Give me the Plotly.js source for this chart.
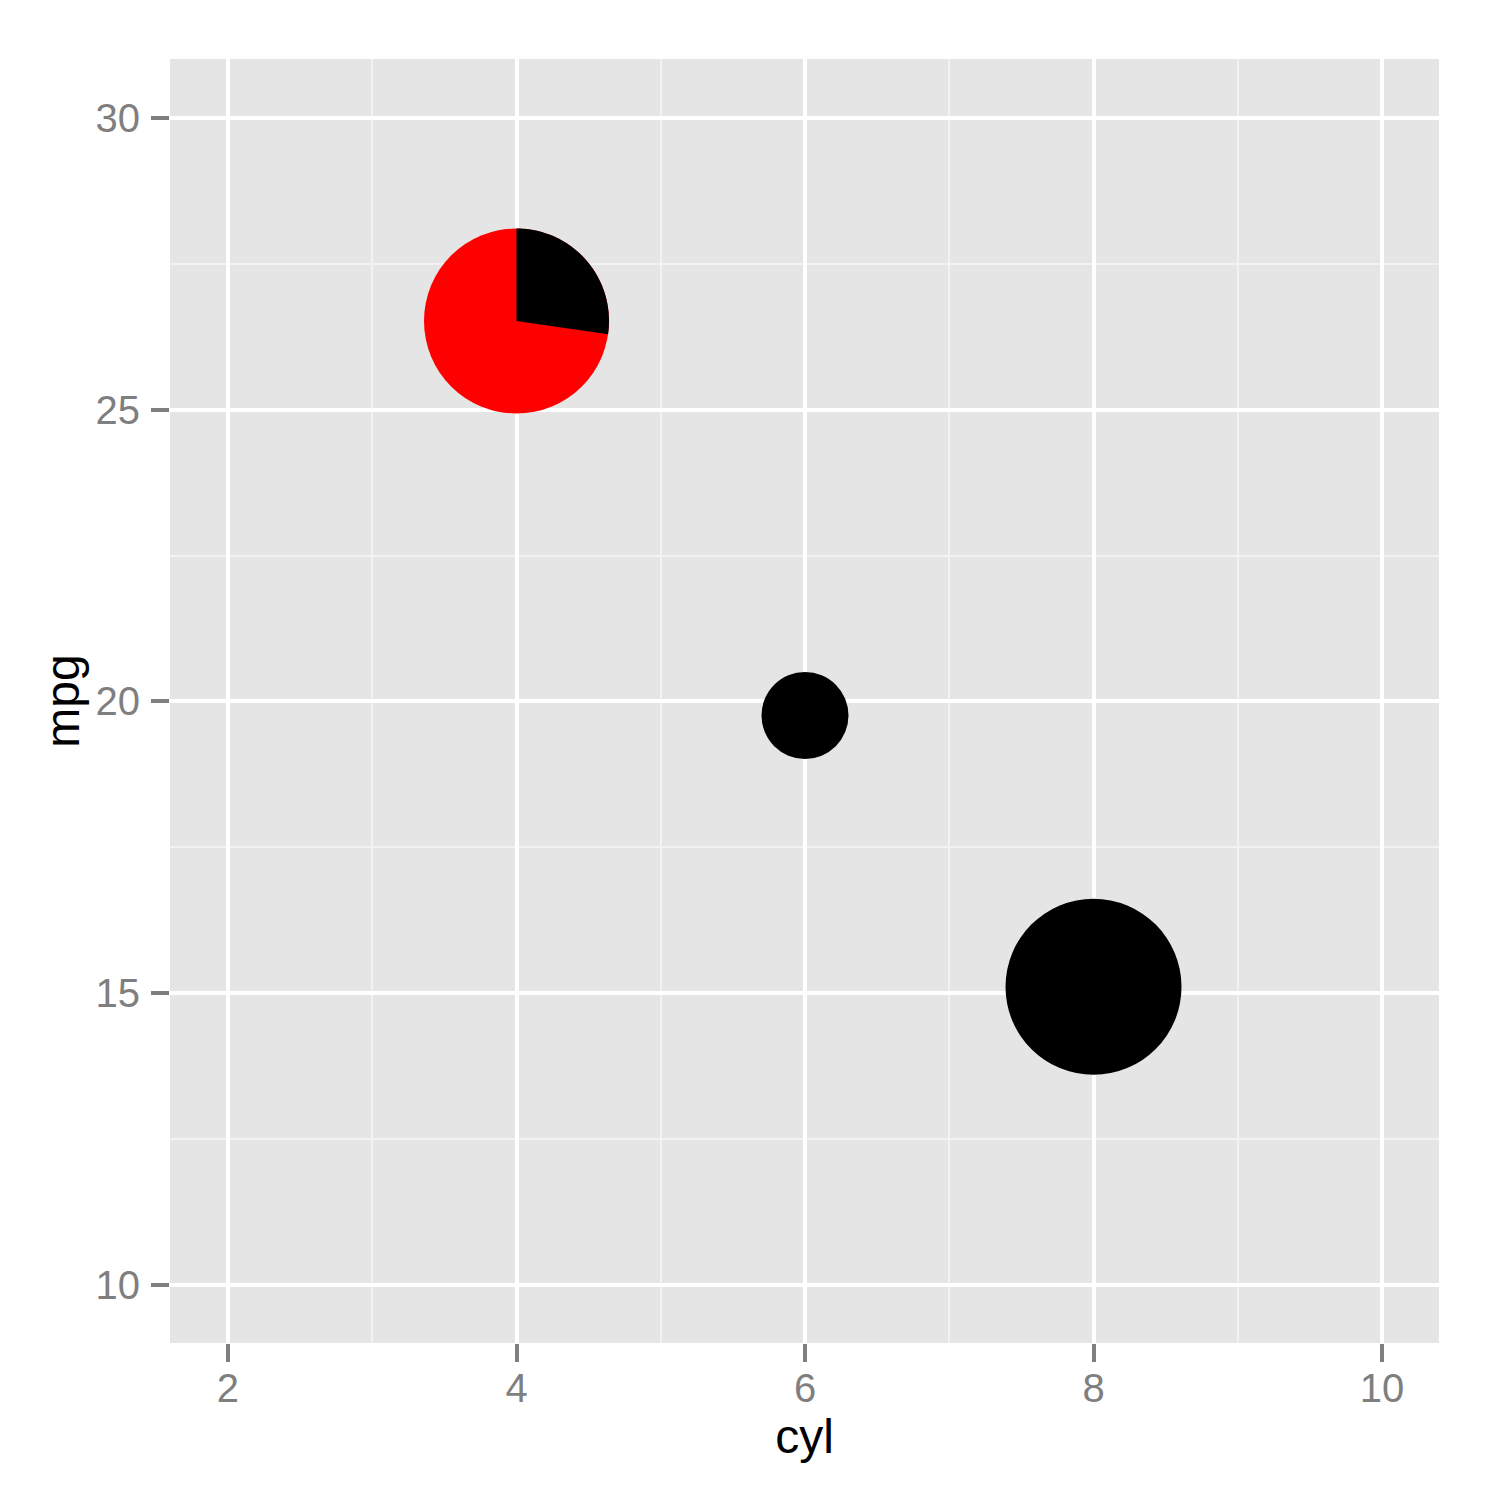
<!DOCTYPE html>
<html>
<head>
<meta charset="utf-8">
<script src="https://cdn.plot.ly/plotly-3.0.1.min.js"></script>
<style>html,body{margin:0;padding:0;background:#fff;}#chart{width:1500px;height:1500px;}</style>
</head>
<body>
<div id="chart"></div>
<script>
// Data
const cyl = [4, 6, 8];
const mpg = [26.52, 19.76, 15.11];
// pie slice shares at each point: black share and red share
const blackShare = [3 / 11, 1, 1];
const redShare = [8 / 11, 0, 0];
// glyph diameters (pixels)
const glyphSize = [185, 87, 176];

const xTicks = [2, 4, 6, 8, 10];
const yTicks = [10, 15, 20, 25, 30];

const TICK_GREY = '#7F7F7F';
const FONT = 'Liberation Sans, Arial, sans-serif';

// Base disc: red where a red slice exists, otherwise black
const baseColors = cyl.map((_, i) => redShare[i] > 0 ? '#FF0000' : '#000000');

const traces = [{
  type: 'scatter',
  mode: 'markers',
  x: cyl,
  y: mpg,
  marker: {
    symbol: 'circle',
    size: glyphSize,
    color: baseColors,
    opacity: 1,
    line: {width: 0}
  },
  opacity: 1,
  hoverinfo: 'x+y',
  showlegend: false,
  cliponaxis: false
}];

// Black wedges drawn on top, anchored at the data point, sized in pixels
const shapes = [];
cyl.forEach((c, i) => {
  if (redShare[i] > 0 && blackShare[i] > 0) {
    const r = glyphSize[i] / 2;
    const sweep = blackShare[i] * 2 * Math.PI;
    const n = 80;
    let path = 'M0,0';
    for (let k = 0; k <= n; k++) {
      const t = sweep * k / n;
      path += ' L' + (r * Math.sin(t)).toFixed(2) + ',' + (r * Math.cos(t)).toFixed(2);
    }
    path += ' Z';
    shapes.push({
      type: 'path',
      xref: 'x', yref: 'y',
      xsizemode: 'pixel', ysizemode: 'pixel',
      xanchor: c, yanchor: mpg[i],
      path: path,
      fillcolor: '#000000',
      opacity: 1,
      line: {width: 0},
      layer: 'above'
    });
  }
});

const layout = {
  width: 1500,
  height: 1500,
  margin: {l: 170, r: 61, t: 59, b: 157, pad: 0},
  paper_bgcolor: '#FFFFFF',
  plot_bgcolor: '#E5E5E5',
  font: {family: FONT, color: TICK_GREY},
  showlegend: false,
  xaxis: {
    range: [1.598, 10.395],
    tickvals: xTicks,
    ticktext: xTicks.map(String),
    showgrid: true,
    gridcolor: '#FFFFFF',
    gridwidth: 4,
    minor: {dtick: 1, tick0: 0, showgrid: true, gridcolor: '#F2F2F2', gridwidth: 2, ticks: ''},
    zeroline: false,
    showline: false,
    ticks: 'outside',
    ticklen: 18,
    tickwidth: 4,
    tickcolor: TICK_GREY,
    ticklabelstandoff: -8,
    tickfont: {family: FONT, size: 40, color: TICK_GREY},
    title: {text: 'cyl', font: {family: FONT, size: 48, color: '#000000'}, standoff: 10}
  },
  yaxis: {
    range: [9.006, 31.01],
    tickvals: yTicks,
    ticktext: yTicks.map(String),
    showgrid: true,
    gridcolor: '#FFFFFF',
    gridwidth: 4,
    minor: {dtick: 2.5, tick0: 0, showgrid: true, gridcolor: '#F2F2F2', gridwidth: 2, ticks: ''},
    zeroline: false,
    showline: false,
    ticks: 'outside',
    ticklen: 18,
    tickwidth: 4,
    tickcolor: TICK_GREY,
    ticklabelstandoff: 3,
    tickfont: {family: FONT, size: 40, color: TICK_GREY},
    title: {text: 'mpg', font: {family: FONT, size: 48, color: '#000000'}, standoff: 0}
  },
  shapes: shapes
};

Plotly.newPlot('chart', traces, layout, {displayModeBar: false, staticPlot: true});
</script>
</body>
</html>
